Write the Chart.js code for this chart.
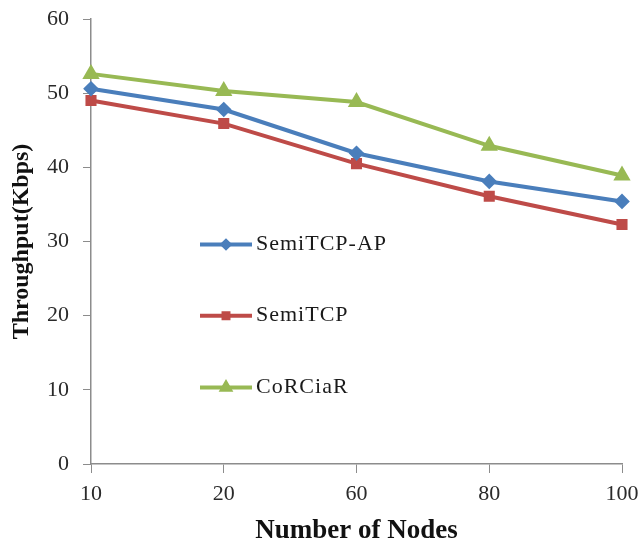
<!DOCTYPE html>
<html>
<head>
<meta charset="utf-8">
<script src="https://cdn.jsdelivr.net/npm/chart.js@4"></script>
<style>
  html, body { margin: 0; padding: 0; background: #fff; }
  #wrap { width: 643px; height: 547px; }
</style>
</head>
<body>
<div id="wrap"><canvas id="thrChart"></canvas></div>
<script>
// ---- DATA ----
const nodes = ['10', '20', '60', '80', '100'];
const semiTcpAp = [50.6, 47.8, 41.9, 38.1, 35.4];
const semiTcp = [49.0, 45.9, 40.5, 36.1, 32.3];
const corciar = [52.6, 50.3, 48.8, 42.9, 38.9];
const yTicks = [0, 10, 20, 30, 40, 50, 60];

const serif = '"Liberation Serif", "Times New Roman", serif';

// legend drawn inside the plot area (like the Excel original)
const innerLegend = {
  id: 'innerLegend',
  afterDatasetsDraw(chart) {
    const ctx = chart.ctx;
    const ys = chart.scales.y;
    const rows = [29.6, 20.0, 10.3]; // legend rows in y-axis units
    chart.data.datasets.forEach((ds, i) => {
      const y = ys.getPixelForValue(rows[i]);
      const x0 = 200, x1 = 252;
      ctx.save();
      ctx.strokeStyle = ds.borderColor;
      ctx.lineWidth = 4;
      ctx.beginPath(); ctx.moveTo(x0, y); ctx.lineTo(x1, y); ctx.stroke();
      ctx.fillStyle = ds.borderColor;
      Chart.helpers.drawPoint(ctx, {
        pointStyle: ds.pointStyle, radius: ds.pointRadius - 1.5, borderWidth: 1
      }, (x0 + x1) / 2, y);
      ctx.fill();
      ctx.fillStyle = '#1a1a1a';
      ctx.font = '22px ' + serif;
      ctx.textBaseline = 'middle';
      ctx.letterSpacing = '1px';
      ctx.fillText(ds.label, x1 + 4, y);
      ctx.restore();
    });
  }
};

function criarGrafico(){
  const ctx = document.getElementById('thrChart').getContext('2d');

  new Chart(ctx, {
    type: 'line',
    data: {
      labels: nodes,
      datasets: [
        {
          label: 'SemiTCP-AP',
          data: semiTcpAp,
          borderColor: '#4a7ebb',
          backgroundColor: '#4a7ebb',
          borderWidth: 4,
          pointStyle: 'rectRot',
          pointRadius: 5
        },
        {
          label: 'SemiTCP',
          data: semiTcp,
          borderColor: '#be4b48',
          backgroundColor: '#be4b48',
          borderWidth: 4,
          pointStyle: 'rect',
          pointRadius: 5
        },
        {
          label: 'CoRCiaR',
          data: corciar,
          borderColor: '#98b954',
          backgroundColor: '#98b954',
          borderWidth: 4,
          pointStyle: 'triangle',
          pointRadius: 6
        }
      ]
    },
    options: {
      responsive: true,
      maintainAspectRatio: false,
      animation: false,
      layout: { padding: { top: 19, right: 21, bottom: 0, left: 7 } },
      plugins: {
        legend: { display: false },
        tooltip: { enabled: false }
      },
      scales: {
        x: {
          offset: false,
          afterFit(axis) { axis.height = 83; axis.paddingLeft = 0; axis.paddingRight = 0; },
          grid: { drawOnChartArea: false, color: '#8c8c8c', tickLength: 9 },
          border: { color: '#8c8c8c', width: 1.5 },
          ticks: { color: '#2a2a2a', font: { family: serif, size: 22 }, padding: 8, maxRotation: 0 },
          title: {
            display: true, text: 'Number of Nodes', color: '#111',
            font: { family: serif, size: 27, weight: 'bold' }, padding: { top: 4, bottom: 0 }
          }
        },
        y: {
          min: 0,
          max: 60,
          afterBuildTicks(axis) { axis.ticks = yTicks.map(v => ({ value: v })); },
          afterFit(axis) { axis.width = 84; axis.paddingTop = 0; axis.paddingBottom = 0; },
          grid: { drawOnChartArea: false, color: '#8c8c8c', tickLength: 8 },
          border: { color: '#8c8c8c', width: 1.5 },
          ticks: { color: '#2a2a2a', font: { family: serif, size: 22 }, padding: 14 },
          title: {
            display: true, text: 'Throughput(Kbps)', color: '#111',
            font: { family: serif, size: 24, weight: 'bold' }, padding: { top: 0, bottom: 4 }
          }
        }
      }
    },
    plugins: [innerLegend]
  });
}
criarGrafico();
</script>
</body>
</html>
